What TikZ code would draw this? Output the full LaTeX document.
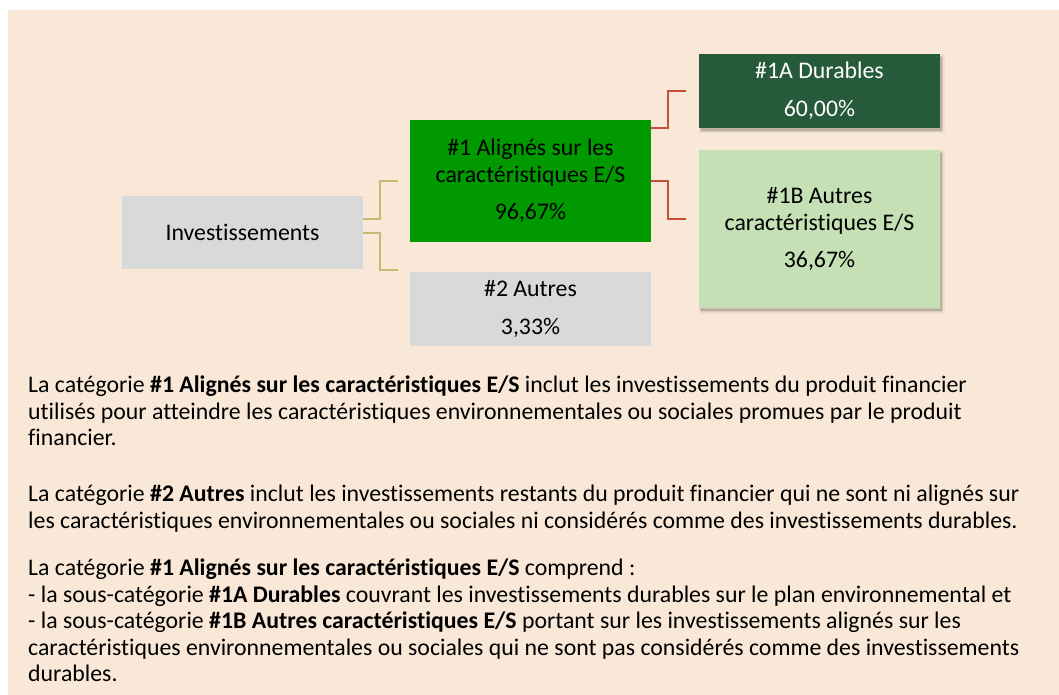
\documentclass[tikz,border=0pt]{standalone}
\usepackage{fontspec}
\setmainfont{Carlito}[Ligatures=NoCommon]
\usetikzlibrary{shadows}
\definecolor{bg}{HTML}{F9E8D7}
\definecolor{boxgray}{HTML}{D9D9D9}
\definecolor{gmid}{HTML}{009900}
\definecolor{gdark}{HTML}{265A3B}
\definecolor{glight}{HTML}{C5E0B4}
\definecolor{tan}{HTML}{C8BA6E}
\definecolor{rust}{HTML}{C55032}
\tikzset{
  box/.style={rectangle, inner sep=0pt, align=center, font=\fontsize{23.8}{26.5}\selectfont},
  shbox/.style={box,
    general shadow={shadow xshift=2pt, shadow yshift=-3pt, fill=black, fill opacity=0.05, draw=black, draw opacity=0.05, line width=5pt},
    general shadow={shadow xshift=2pt, shadow yshift=-3pt, fill=black, fill opacity=0.06, draw=black, draw opacity=0.06, line width=2.5pt},
    general shadow={shadow xshift=2pt, shadow yshift=-3pt, fill=black, fill opacity=0.08}},
  tanline/.style={draw=tan, line width=2pt},
  rustline/.style={draw=rust, line width=2pt},
  para/.style={anchor=base west, inner sep=0pt, font=\fontsize{23.8}{26.5}\selectfont},
}
\begin{document}
\begin{tikzpicture}[x=1pt,y=-1pt]
\useasboundingbox (0,0) rectangle (1059,695);
\fill[white] (0,0) rectangle (1059,695);
\fill[bg] (8,10) rectangle (1059,695);
% boxes
\node[box, fill=boxgray, minimum width=241pt, minimum height=73pt] (inv) at (242.5,232.5) {Investissements};
\node[box, fill=gmid, minimum width=241pt, minimum height=122pt] (g1) at (530.5,181) {\#1 Alignés sur les\\caractéristiques E/S\\[11pt]96,67\%};
\node[box, fill=boxgray, minimum width=241pt, minimum height=74pt] (o2) at (530.5,309) {\#2 Autres\\[11pt]3,33\%};
\node[shbox, fill=gdark, text=white, minimum width=241pt, minimum height=74pt] (a1) at (819.5,91) {\#1A Durables\\[11pt]60,00\%};
\node[shbox, fill=glight, minimum width=241pt, minimum height=158pt] (b1) at (819.5,229) {\#1B Autres\\caractéristiques E/S\\[11pt]36,67\%};
% connectors
\draw[tanline] ([yshift=13.5pt]inv.east) -- ++(17,0) |- ([xshift=-12pt]g1.west);
\draw[tanline] ([yshift=-0.5pt]inv.east) -- ++(17,0) |- ([xshift=-12pt,yshift=2pt]o2.north west);
\draw[rustline] ([yshift=-8pt]g1.north east) -- ++(17,0) |- ([xshift=-13pt]a1.west);
\draw[rustline] (g1.east) -- ++(17,0) |- ([xshift=-13pt,yshift=10pt]b1.west);
% paragraphs
\node[para] (p1a) at (28,392) {La catégorie \textbf{\#1 Alignés sur les caractéristiques E/S} inclut les investissements du produit financier};
\node[para] (p1b) at (28,419) {utilisés pour atteindre les caractéristiques environnementales ou sociales promues par le produit};
\node[para] (p1c) at (28,445) {financier.};
\node[para] (p2a) at (28,501) {La catégorie \textbf{\#2 Autres} inclut les investissements restants du produit financier qui ne sont ni alignés sur};
\node[para] (p2b) at (28,528) {les caractéristiques environnementales ou sociales ni considérés comme des investissements durables.};
\node[para] (p3a) at (28,575) {La catégorie \textbf{\#1 Alignés sur les caractéristiques E/S} comprend :};
\node[para] (p3b) at (28,602) {- la sous-catégorie \textbf{\#1A Durables} couvrant les investissements durables sur le plan environnemental et};
\node[para] (p3c) at (28,628) {- la sous-catégorie \textbf{\#1B Autres caractéristiques E/S} portant sur les investissements alignés sur les};
\node[para] (p3d) at (28,655) {caractéristiques environnementales ou sociales qui ne sont pas considérés comme des investissements};
\node[para] (p3e) at (28,681) {durables.};
\end{tikzpicture}
\end{document}
